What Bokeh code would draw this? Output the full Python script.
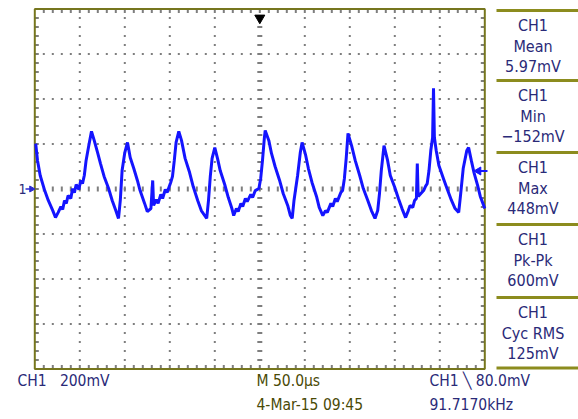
import numpy as np
from bokeh.plotting import figure
from bokeh.models import Range1d
from bokeh.core.properties import value
from bokeh.embed import file_html
from bokeh.resources import INLINE

# ---------------- data ----------------
t_us = [1, 3, 6, 11, 15, 20, 23, 26, 29, 31, 33, 35, 37, 40, 42, 44, 46, 49, 51, 53,
        55, 57, 60, 63, 66, 70, 73, 77, 82, 86, 90, 93, 95, 97, 100, 103, 106, 110, 114, 117,
        122, 125, 129, 131, 132, 135, 137, 140, 142, 145, 147, 151, 153, 155, 157, 160, 163, 167, 172, 176,
        181, 185, 191, 193, 195, 197, 200, 203, 206, 211, 215, 219, 221, 224, 226, 229, 231, 234, 236, 240,
        242, 245, 249, 251, 253, 255, 256, 260, 263, 267, 272, 276, 281, 284, 286, 288, 292, 295, 297, 301,
        304, 308, 313, 316, 320, 323, 325, 329, 331, 334, 336, 340, 342, 344, 346, 348, 352, 356, 361, 365,
        370, 374, 378, 381, 383, 385, 388, 392, 395, 400, 404, 408, 412, 415, 417, 420, 422, 424, 425, 426,
        429, 432, 434, 436, 438, 440, 442, 443, 444, 446, 449, 454, 458, 463, 467, 471, 473, 476, 480, 482,
        485, 488, 492, 495, 500]
v_mV = [202, 127, 60, -7, -51, -96, -127, -104, -78, -91, -51, -64, -29, -42, 2, -16, 20, -2, 38, 24,
        60, 127, 193, 256, 216, 158, 113, 56, 2, -51, -96, -131, -51, 82, 162, 207, 140, 91, 38, -7,
        -64, -100, -87, 38, -73, -47, -64, -24, -42, -2, -16, 29, 56, 127, 207, 256, 216, 136, 73, 11,
        -51, -96, -131, -51, 56, 136, 184, 136, 82, 20, -38, -87, -118, -87, -100, -64, -78, -42, -56, -24,
        -38, -7, 2, 47, 127, 224, 260, 216, 158, 100, 38, -20, -73, -118, -131, -51, 60, 162, 207, 149,
        91, 29, -33, -82, -118, -96, -104, -64, -78, -42, -56, -16, -7, 47, 136, 247, 193, 127, 60, 2,
        -51, -96, -131, -96, -20, 82, 193, 127, 60, 7, -42, -87, -127, -96, -73, -82, -51, -42, 113, -33,
        -20, -7, 11, 24, 82, 171, 229, 448, 229, 171, 104, 47, 2, -51, -87, -104, -29, 91, 171, 184,
        127, 73, 16, -33, -87]

channel = "CH1"
meas_names = ["Mean", "Min", "Max", "Pk-Pk", "Cyc RMS"]
meas_values = ["5.97mV", "\u2212152mV", "448mV", "600mV", "125mV"]
scale_text = "CH1\u00a0\u00a0\u00a0200mV"
time_text = "M 50.0\u00b5s"
trig_text = "CH1 \u2572 80.0mV"
date_text = "4-Mar-15 09:45"
freq_text = "91.7170kHz"
trigger_level_mV = 80

# ---------------- layout (page pixels) ----------------
W, H = 578, 419
PX = 45.0            # pixels per division
T_DIV, V_DIV = 50.0, 200.0
N_T, N_V = 10, 8
FL, FT = 34.3, 8.5   # scope frame position on the page
T_MAX = N_T * T_DIV
V_MAX = N_V / 2 * V_DIV


def X(cx):
    return (cx - FL) / PX * T_DIV


def Y(cy):
    return V_MAX - (cy - FT) / PX * V_DIV


def dT(px):
    return px / PX * T_DIV


def dV(px):
    return px / PX * V_DIV


p = figure(width=W, height=H, output_backend="svg", toolbar_location=None,
           x_range=Range1d(X(0), X(W)), y_range=Range1d(Y(H), Y(0)),
           x_axis_type=None, y_axis_type=None, min_border=0)
p.outline_line_color = None
p.background_fill_color = "white"
p.border_fill_color = "white"

GRID = "#7e7e7e"
OLIVE = "#8c8c1e"
NAVY = "#2a2a78"
DARKOLIVE = "#4a4a06"
FONT = value("DejaVu Sans Condensed")

t_minor = np.arange(T_DIV / 5, T_MAX, T_DIV / 5)
v_minor = np.arange(-V_MAX + V_DIV / 5, V_MAX, V_DIV / 5)

# dotted grid lines
gx, gy = [], []
for k in range(1, N_V):
    v = -V_MAX + k * V_DIV
    if v == 0:
        continue
    gx += list(t_minor)
    gy += [v] * len(t_minor)
for k in range(1, N_T):
    t = k * T_DIV
    if t == T_MAX / 2:
        continue
    gx += [t] * len(v_minor)
    gy += list(v_minor)
p.rect(gx, gy, width=2, height=2, width_units="screen", height_units="screen",
       fill_color=GRID, line_color=None)

# centre lines with tick marks
p.rect([T_MAX / 2] * len(v_minor), v_minor, width=5, height=2, width_units="screen",
       height_units="screen", fill_color=GRID, line_color=None)
p.rect(t_minor, [0] * len(t_minor), width=2, height=5, width_units="screen",
       height_units="screen", fill_color=GRID, line_color=None)

# border ticks
L = 4
p.segment(x0=[0] * len(v_minor), y0=v_minor, x1=[dT(L)] * len(v_minor), y1=v_minor,
          line_color=GRID, line_width=2)
p.segment(x0=[T_MAX] * len(v_minor), y0=v_minor, x1=[T_MAX - dT(L)] * len(v_minor), y1=v_minor,
          line_color=GRID, line_width=2)
p.segment(x0=t_minor, y0=[V_MAX] * len(t_minor), x1=t_minor, y1=[V_MAX - dV(L)] * len(t_minor),
          line_color=GRID, line_width=2)
p.segment(x0=t_minor, y0=[-V_MAX] * len(t_minor), x1=t_minor, y1=[-V_MAX + dV(L)] * len(t_minor),
          line_color=GRID, line_width=2)

# frame border
p.quad(left=[0], right=[T_MAX], bottom=[-V_MAX], top=[V_MAX], fill_alpha=0,
       line_color="#76761e", line_width=2)

# waveform
p.line(t_us, v_mV, line_color="#1414ff", line_width=3)

# trigger position marker (top centre)
p.scatter([T_MAX / 2], [Y(17.5)], marker="inverted_triangle", size=10, color="black")

# ground marker "1->"
p.text([X(18)], [0], text=["1"], text_font=FONT, text_font_size="14px",
       text_color=NAVY, text_align="left", text_baseline="middle")
p.segment([X(25)], [0], [X(32)], [0], line_color="#2a2ad0", line_width=1.5)
p.scatter([X(31)], [0], marker="triangle", angle=-np.pi / 2, size=6, color="#2a2ad0")

# trigger level arrow (right edge)
p.segment([X(479)], [trigger_level_mV], [X(487)], [trigger_level_mV], line_color="#1414ff", line_width=2)
p.scatter([X(478)], [trigger_level_mV], marker="triangle", angle=np.pi / 2, size=8, color="#1414ff")

# measurement panel
box_tops = [10, 80, 152, 224, 297, 367.5]
p.segment(x0=[X(496)] * len(box_tops), y0=[Y(b) for b in box_tops],
          x1=[X(W)] * len(box_tops), y1=[Y(b) for b in box_tops],
          line_color=OLIVE, line_width=3)
tx, ty, tt = [], [], []
for i, (nm, val) in enumerate(zip(meas_names, meas_values)):
    top = box_tops[i]
    for off, s in zip([15, 36, 56], [channel, nm, val]):
        tx.append(X(532.5))
        ty.append(Y(top + off))
        tt.append(s)
p.text(tx, ty, text=tt, text_font=FONT, text_font_size="16px", text_color=NAVY,
       text_align="center", text_baseline="middle")

# bottom status texts
p.text([X(17), X(429), X(429)], [Y(380), Y(380), Y(404.5)], text=[scale_text, trig_text, freq_text],
       text_font=FONT, text_font_size="15.5px", text_color=NAVY, text_align="left", text_baseline="middle")
p.text([X(256), X(256)], [Y(380), Y(404.5)], text=[time_text, date_text],
       text_font=FONT, text_font_size="15.5px", text_color=DARKOLIVE, text_align="left", text_baseline="middle")

open("out.html", "w").write(file_html(p, INLINE))
